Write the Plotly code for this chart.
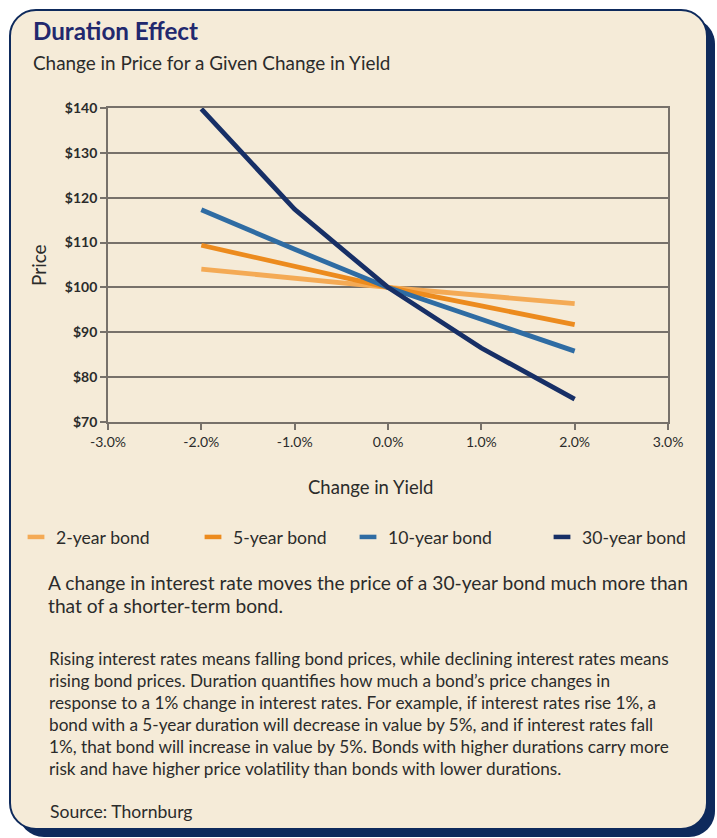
import plotly.graph_objects as go

# ---- data -------------------------------------------------------------
yield_change = [-2.0, -1.0, 0.0, 1.0, 2.0]          # change in yield, %
price_2yr = [104.1, 102.0, 100.0, 98.2, 96.4]
price_5yr = [109.4, 104.6, 100.0, 95.9, 91.7]
price_10yr = [117.3, 108.5, 100.0, 92.8, 85.8]
price_30yr = [139.8, 117.4, 100.0, 86.5, 75.1]

series_names = ["2-year bond", "5-year bond", "10-year bond", "30-year bond"]
series_values = [price_2yr, price_5yr, price_10yr, price_30yr]
series_colors = ["#F4AA55", "#EC8B1E", "#2F6CA3", "#172F66"]

x_tick_vals = [-3, -2, -1, 0, 1, 2, 3]
x_tick_text = ["-3.0%", "-2.0%", "-1.0%", "0.0%", "1.0%", "2.0%", "3.0%"]
y_tick_vals = [70, 80, 90, 100, 110, 120, 130, 140]
y_tick_text = ["$70", "$80", "$90", "$100", "$110", "$120", "$130", "$140"]

title = "Duration Effect"
subtitle = "Change in Price for a Given Change in Yield"
lead_lines = [
    "A change in interest rate moves the price of a 30-year bond much more than",
    "that of a shorter-term bond.",
]
body_lines = [
    "Rising interest rates means falling bond prices, while declining interest rates means",
    "rising bond prices. Duration quantifies how much a bond\u2019s price changes in",
    "response to a 1% change in interest rates. For example, if interest rates rise 1%, a",
    "bond with a 5-year duration will decrease in value by 5%, and if interest rates fall",
    "1%, that bond will increase in value by 5%. Bonds with higher durations carry more",
    "risk and have higher price volatility than bonds with lower durations.",
]
source = "Source: Thornburg"

# ---- page geometry (pixels) -------------------------------------------
W, H = 717, 838
PL, PR, PT, PB = 108, 668, 108, 422      # plot area edges

FONT = "Lato, 'Open Sans', sans-serif"
NAVY = "#0E2A5C"
BEIGE = "#F5EBD8"
GRID = "#77716A"
TEXT = "#2B2B2B"


def px(x):
    return (x - PL) / (PR - PL)


def py(y):
    return (PB - y) / (PB - PT)


def rounded_rect(x0, y0, x1, y1, r):
    k = 0.5523 * r
    pts = [
        f"M{px(x0 + r)},{py(y0)}",
        f"L{px(x1 - r)},{py(y0)}",
        f"C{px(x1 - r + k)},{py(y0)} {px(x1)},{py(y0 + r - k)} {px(x1)},{py(y0 + r)}",
        f"L{px(x1)},{py(y1 - r)}",
        f"C{px(x1)},{py(y1 - r + k)} {px(x1 - r + k)},{py(y1)} {px(x1 - r)},{py(y1)}",
        f"L{px(x0 + r)},{py(y1)}",
        f"C{px(x0 + r - k)},{py(y1)} {px(x0)},{py(y1 - r + k)} {px(x0)},{py(y1 - r)}",
        f"L{px(x0)},{py(y0 + r)}",
        f"C{px(x0)},{py(y0 + r - k)} {px(x0 + r - k)},{py(y0)} {px(x0 + r)},{py(y0)}",
        "Z",
    ]
    return " ".join(pts)


fig = go.Figure()

# price lines
for name, vals, col in zip(series_names, series_values, series_colors):
    fig.add_trace(go.Scatter(
        x=yield_change, y=vals, mode="lines", name=name,
        line=dict(color=col, width=4.8), showlegend=False,
        hoverinfo="skip",
    ))

# legend entries: short dash swatches, one legend box each
legend_x = [16, 193, 348, 542]
legend_ids = ["legend", "legend2", "legend3", "legend4"]
for name, col, lid in zip(series_names, series_colors, legend_ids):
    fig.add_trace(go.Scatter(
        x=[None], y=[None], mode="markers", name=name, legend=lid,
        marker=dict(symbol="line-ew", size=12, color=col,
                    line=dict(color=col, width=4.5)),
        showlegend=True,
    ))

legend_common = dict(
    orientation="h", xanchor="left", yanchor="middle",
    bgcolor="rgba(0,0,0,0)", borderwidth=0,
    font=dict(family=FONT, size=17.6, color=TEXT),
    itemwidth=30, tracegroupgap=0,
)
legend_layout = {}
for lx, lid in zip(legend_x, legend_ids):
    legend_layout[lid] = dict(legend_common, x=px(lx), y=py(537))

shapes = [
    # card shadow and card
    dict(type="path", xref="paper", yref="paper", layer="below",
         path=rounded_rect(18, 18, 715, 837, 26),
         fillcolor=NAVY, line=dict(width=0)),
    dict(type="path", xref="paper", yref="paper", layer="below",
         path=rounded_rect(10, 10, 707, 829, 26),
         fillcolor=BEIGE, line=dict(color=NAVY, width=2)),
]

annotations = [
    dict(text=f"<b>{title}</b>", x=px(31), y=py(30), xref="paper", yref="paper",
         xanchor="left", yanchor="middle", showarrow=False,
         font=dict(family=FONT, size=24.2, color="#22286E")),
    dict(text=subtitle, x=px(31), y=py(62), xref="paper", yref="paper",
         xanchor="left", yanchor="middle", showarrow=False,
         font=dict(family=FONT, size=18.9, color=TEXT)),
    dict(text="Price", x=px(38), y=py(265), xref="paper", yref="paper",
         xanchor="center", yanchor="middle", showarrow=False, textangle=-90,
         font=dict(family=FONT, size=19, color=TEXT)),
    dict(text="Change in Yield", x=px(370), y=py(487), xref="paper", yref="paper",
         xanchor="center", yanchor="middle", showarrow=False,
         font=dict(family=FONT, size=18.5, color=TEXT)),
    dict(text=source, x=px(48), y=py(811), xref="paper", yref="paper",
         xanchor="left", yanchor="middle", showarrow=False,
         font=dict(family=FONT, size=17.6, color=TEXT)),
]
for i, line in enumerate(lead_lines):
    annotations.append(dict(
        text=line, x=px(46), y=py(582 + 23 * i), xref="paper", yref="paper",
        xanchor="left", yanchor="middle", showarrow=False,
        font=dict(family=FONT, size=19.2, color=TEXT)))
for i, line in enumerate(body_lines):
    annotations.append(dict(
        text=line, x=px(47), y=py(658 + 22 * i), xref="paper", yref="paper",
        xanchor="left", yanchor="middle", showarrow=False,
        font=dict(family=FONT, size=17.2, color=TEXT)))

fig.update_layout(
    width=W, height=H, autosize=False,
    margin=dict(l=PL, r=W - PR, t=PT, b=H - PB, pad=0),
    paper_bgcolor="white", plot_bgcolor="rgba(0,0,0,0)",
    shapes=shapes, annotations=annotations,
    **legend_layout,
    xaxis=dict(
        range=[-3, 3], tickvals=x_tick_vals, ticktext=x_tick_text,
        showgrid=False, zeroline=False, showline=True, mirror=True,
        linecolor=GRID, linewidth=1.7, ticks="outside", ticklen=6,
        tickwidth=1.7, tickcolor=GRID,
        tickfont=dict(family=FONT, size=14, color=TEXT), fixedrange=True,
    ),
    yaxis=dict(
        range=[70, 140], tickvals=y_tick_vals, ticktext=y_tick_text,
        showgrid=True, gridcolor=GRID, gridwidth=1.7, zeroline=False,
        showline=True, mirror=True, linecolor=GRID, linewidth=1.7,
        ticks="outside", ticklen=6, tickwidth=1.7, tickcolor=GRID,
        tickfont=dict(family=FONT, size=14, color=TEXT, weight="bold"),
        fixedrange=True,
    ),
)

fig.write_html("out.html")
